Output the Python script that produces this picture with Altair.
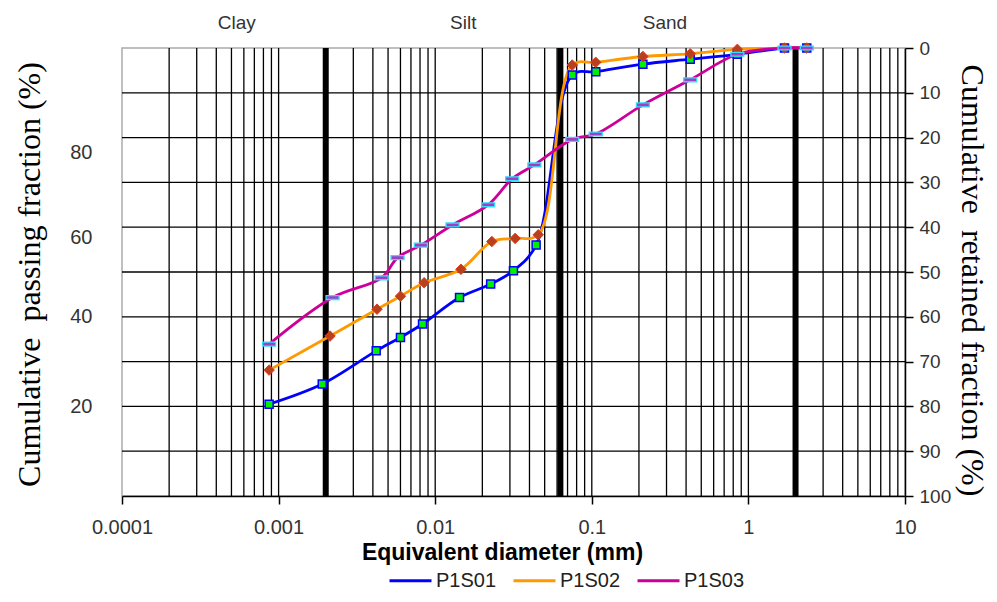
import altair as alt
import pandas as pd

# ---------------- data ----------------
series_names = ["P1S01", "P1S02", "P1S03"]
line_colors = ["#0000ff", "#ff9900", "#cc0099"]

p1s01_d = [0.00087, 0.0019, 0.0042, 0.0060, 0.0083, 0.0143, 0.0226, 0.0316, 0.0441,
           0.075, 0.106, 0.212, 0.425, 0.85, 1.7, 2.36]
p1s01_pass = [20.5, 25.0, 32.4, 35.4, 38.4, 44.3, 47.3, 50.3, 56.0,
              94.0, 94.7, 96.4, 97.5, 98.6, 100, 100]

p1s02_d = [0.00087, 0.00213, 0.00425, 0.0060, 0.0085, 0.0146, 0.0230, 0.0324, 0.0455,
           0.075, 0.106, 0.212, 0.425, 0.85, 1.7, 2.36]
p1s02_pass = [28.1, 35.7, 41.7, 44.6, 47.6, 50.6, 56.8, 57.5, 58.3,
              96.2, 96.8, 98.1, 98.7, 99.7, 100, 100]

p1s03_d = [0.00087, 0.00221, 0.00455, 0.00575, 0.0081, 0.0129, 0.0218, 0.0310, 0.0430,
           0.075, 0.106, 0.212, 0.425, 0.85, 1.7, 2.36]
p1s03_pass = [33.9, 44.3, 48.7, 53.2, 56.0, 60.5, 65.0, 70.8, 73.9,
              79.6, 80.8, 87.3, 92.9, 98.6, 100, 100]

zone_names = ["Clay", "Silt", "Sand"]
zone_label_d = [0.00054, 0.0151, 0.293]
boundary_d = [0.002, 0.063, 2.0]

x_tick_values = [0.0001, 0.001, 0.01, 0.1, 1, 10]
x_grid_values = [k * 10.0 ** e for e in range(-4, 1) for k in range(1, 10)][1:]
h_grid_pass = [10, 20, 30, 40, 50, 60, 70, 80, 90]
retained_ticks = [0, 10, 20, 30, 40, 50, 60, 70, 80, 90, 100]
left_label_pos = [20, 40, 57.6, 76.6]

# ---------------- tables ----------------
frames = []
for name, d, p in [("P1S01", p1s01_d, p1s01_pass),
                   ("P1S02", p1s02_d, p1s02_pass),
                   ("P1S03", p1s03_d, p1s03_pass)]:
    frames.append(pd.DataFrame({"series": name, "d": d, "p": p}))
df = pd.concat(frames, ignore_index=True)

vgrid_df = pd.DataFrame({"v": x_grid_values})
hgrid_df = pd.DataFrame({"ret": [100 - v for v in h_grid_pass]})
bound_df = pd.DataFrame({"b": boundary_d})
zone_df = pd.DataFrame({"zone": zone_names, "zx": zone_label_d})

FONT = "Liberation Sans"
SERIF = "Liberation Serif"

xs = alt.Scale(type="log", domain=[1e-4, 10], nice=False)
ys = alt.Scale(domain=[0, 100], nice=False, zero=False)

x_axis = alt.Axis(values=x_tick_values, format="~g", grid=False,
                  domainColor="black", domainWidth=1.5,
                  tickColor="black", tickSize=8, tickWidth=1.5,
                  labelFont=FONT, labelFontSize=20, labelColor="#333333",
                  labelPadding=13, labelFlush=False, labelOverlap=False,
                  title="Equivalent diameter (mm)", titleFont=FONT,
                  titleFontSize=23, titleFontWeight="bold", titleColor="black",
                  titleX=380, titleY=56, titleBaseline="middle", titleAlign="center",
                  zindex=2)

left_axis = alt.Axis(orient="left", values=left_label_pos,
                     labelExpr="format(round(datum.value/20)*20, 'd')",
                     domain=False, ticks=False, grid=False,
                     labelFont=FONT, labelFontSize=20, labelColor="#333333",
                     labelPadding=30,
                     title="Cumulative\u00a0 passing fraction (%)",
                     titleFont=SERIF, titleFontSize=32, titleFontWeight="normal",
                     titleColor="black", titleAngle=-90,
                     titleX=-93, titleY=226, titleAlign="center", titleBaseline="middle")

right_axis = alt.Axis(orient="right", values=retained_ticks, grid=False,
                      domainColor="black", domainWidth=1.5,
                      tickColor="black", tickSize=8, tickWidth=1.5,
                      labelFont=FONT, labelFontSize=19, labelColor="#333333",
                      labelPadding=6,
                      title="Cumulative\u00a0 retained fraction (%)",
                      titleFont=SERIF, titleFontSize=32, titleFontWeight="normal",
                      titleColor="black", titleAngle=90,
                      titleX=66, titleY=232, titleAlign="center", titleBaseline="middle",
                      zindex=2)

X = lambda f: alt.X(f, scale=xs, axis=x_axis)
Y = lambda f: alt.Y(f, scale=ys, axis=left_axis)

vgrid = alt.Chart(vgrid_df).mark_rule(color="black", strokeWidth=1.3).encode(
    x=X("v:Q"))

bounds = alt.Chart(bound_df).mark_rule(color="black", strokeWidth=6).encode(
    x=X("b:Q"))

zones = alt.Chart(zone_df).mark_text(font=FONT, fontSize=19, color="#333333",
                                     baseline="middle").encode(
    x=X("zx:Q"),
    y=alt.value(-25),
    text="zone:N")

lines = alt.Chart(df).mark_line(interpolate="catmull-rom", strokeWidth=2.8).encode(
    x=X("d:Q"),
    y=Y("p:Q"),
    color=alt.Color("series:N",
                    scale=alt.Scale(domain=series_names, range=line_colors),
                    legend=alt.Legend(orient="none", legendX=266, legendY=510,
                                      direction="horizontal", title=None,
                                      symbolType="stroke", symbolSize=1764,
                                      symbolStrokeWidth=3,
                                      labelFont=FONT, labelFontSize=20,
                                      labelColor="#222222", labelOffset=3,
                                      columnPadding=10)),
)

def pts(name, **mk):
    return alt.Chart(df).transform_filter(alt.datum.series == name).mark_point(
        filled=True, opacity=1, **mk).encode(
        x=X("d:Q"),
        y=Y("p:Q"))

pts1 = pts("P1S01", shape="square", size=64, fill="#00ee00", stroke="#0000ff",
           strokeWidth=1.5)
pts2 = pts("P1S02", shape="diamond", size=110, fill="#b8401c", stroke="#e03a1a",
           strokeWidth=1)
pts3 = pts("P1S03", shape="M-1,-0.3H1V0.3H-1Z", size=169, fill="#a040c0",
           stroke="#33ddff", strokeWidth=1.3)

main = alt.layer(vgrid, bounds, lines, pts1, pts2, pts3, zones)

hgrid = alt.Chart(hgrid_df).mark_rule(color="black", strokeWidth=1.3).encode(
    y=alt.Y("ret:Q", scale=alt.Scale(domain=[0, 100], reverse=True, nice=False,
                                     zero=False), axis=right_axis))

chart = alt.layer(hgrid, main).resolve_scale(y="independent").properties(
    width=783, height=448,
    autosize=alt.AutoSizeParams(type="none"),
    padding={"left": 114, "top": 40, "right": 84, "bottom": 98},
    background="white",
).configure_view(stroke="#aaaaaa", strokeWidth=1.5)

chart.save("out.html", embed_options={"renderer": "svg", "actions": False})
